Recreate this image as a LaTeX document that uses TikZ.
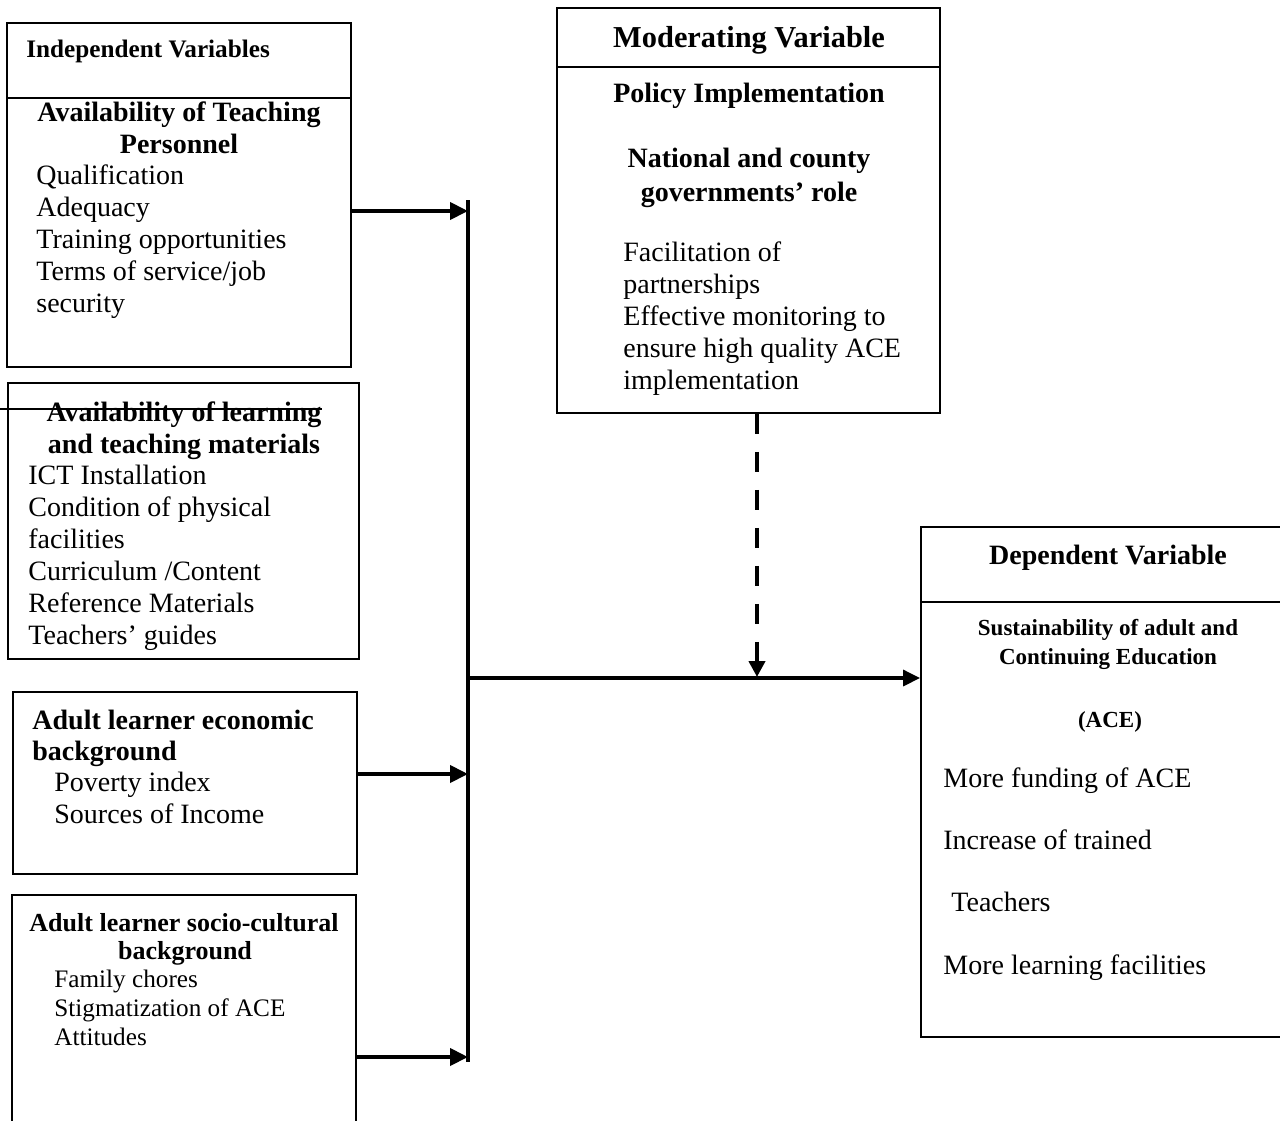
\documentclass[tikz,border=0pt]{standalone}
\usepackage{fontspec}
\setmainfont{Liberation Serif}
\usetikzlibrary{arrows.meta,fit}
\begin{document}
\begin{tikzpicture}[x=0.5pt,y=-0.5pt,
  box/.style={draw, line width=0.9pt, inner sep=0pt},
  rule/.style={line width=0.9pt},
  txt/.style={inner sep=0pt, anchor=base west, font=\fontsize{14}{16}\selectfont},
  hd/.style={inner sep=0pt, anchor=base west, font=\bfseries\fontsize{14}{16}\selectfont},
  hdc/.style={hd, anchor=base},
  arr/.style={line width=2pt, -{Triangle[length=9pt,width=8.5pt]}},
  ]
\path[use as bounding box] (0,0) rectangle (1280,1120);
\clip (0,0) rectangle (1280,1120);

% ---------- Box 1: Independent variables / teaching personnel
\node[box, fit={(7,23) (351,367)}] (iv) {};
\draw[rule] (iv.west |- 0,98) -- (iv.east |- 0,98);
\node[hd, font=\bfseries\fontsize{12.6}{14}\selectfont] (ivh) at (26,57) {Independent Variables};
\node[hdc] (ivt1) at (179,121) {Availability of Teaching};
\node[hdc] (ivt2) at (179,153) {Personnel};
\foreach \t/\y [count=\i] in {Qualification/184, Adequacy/216, Training opportunities/248, {Terms of service/job}/280, security/312}
  \node[txt] (ivi\i) at (36,\y) {\t};

% ---------- Box 2: learning and teaching materials
\node[box, fit={(8,383) (359,659)}] (lm) {};
\node[hdc] (lmt1) at (184,421) {Availability of learning};
\node[hdc] (lmt2) at (184,453) {and teaching materials};
\draw[line width=0.6pt] (0,409) -- (lmt1.east |- 0,409);
\foreach \t/\y [count=\i] in {ICT Installation/484, Condition of physical/516, facilities/548, {Curriculum /Content}/580, Reference Materials/612, Teachers’ guides/644}
  \node[txt] (lmi\i) at (28,\y) {\t};

% ---------- Box 3: economic background
\node[box, fit={(13,692) (357,874)}] (eb) {};
\node[hd] (ebt1) at (32,729) {Adult learner economic};
\node[hd] (ebt2) at (32,760) {background};
\node[txt] (ebi1) at (54,791) {Poverty index};
\node[txt] (ebi2) at (54,823) {Sources of Income};

% ---------- Box 4: socio-cultural background
\node[box, fit={(12,895) (356,1150)}] (sc) {};
\node[hdc, font=\bfseries\fontsize{13}{15}\selectfont] (sct1) at (184,931) {Adult learner socio-cultural};
\node[hdc, font=\bfseries\fontsize{13}{15}\selectfont] (sct2) at (185,959) {background};
\foreach \t/\y [count=\i] in {Family chores/987, Stigmatization of ACE/1016, Attitudes/1045}
  \node[txt, font=\fontsize{12.6}{14}\selectfont] (sci\i) at (54,\y) {\t};

% ---------- Moderating variable
\node[box, fit={(557,8) (940,413)}] (mv) {};
\draw[rule] (mv.west |- 0,67) -- (mv.east |- 0,67);
\node[hdc, font=\bfseries\fontsize{15.2}{17}\selectfont] (mvh) at (749,47) {Moderating Variable};
\node[hdc] (mvt1) at (749,102) {Policy Implementation};
\node[hdc] (mvt2) at (749,167) {National and county};
\node[hdc] (mvt3) at (749,201) {governments’ role};
\foreach \t/\y [count=\i] in {Facilitation of/261, partnerships/293, Effective monitoring to/325, ensure high quality ACE/357, implementation/389}
  \node[txt] (mvi\i) at (623,\y) {\t};

% ---------- Dependent variable
\node[box, fit={(921,527) (1300,1037)}] (dv) {};
\draw[rule] (dv.west |- 0,602) -- (dv.east |- 0,602);
\node[hdc] (dvh) at (1108,564) {Dependent Variable};
\node[hdc, font=\bfseries\fontsize{11.5}{13}\selectfont] (dvt1) at (1108,635) {Sustainability of adult and};
\node[hdc, font=\bfseries\fontsize{11.5}{13}\selectfont] (dvt2) at (1108,664) {Continuing Education};
\node[hdc, font=\bfseries\fontsize{11.5}{13}\selectfont] (dvt3) at (1110,727) {(ACE)};
\node[txt] (dvi1) at (943,787) {More funding of ACE};
\node[txt] (dvi2) at (943,849) {Increase of trained};
\node[txt] (dvi3) at (951,911) {Teachers};
\node[txt] (dvi4) at (943,974) {More learning facilities};

% ---------- connectors
\coordinate (busT) at (468,200);
\coordinate (busB) at (468,1062);
\coordinate (j1) at (468,211);
\coordinate (j3) at (468,774);
\coordinate (j4) at (468,1057);
\coordinate (jm) at (468,678);
\coordinate (dx) at (757,677);
\draw[line width=2.2pt] (busT) -- (busB);
\draw[arr] (iv.east |- j1) -- (j1);
\draw[arr] (eb.east |- j3) -- (j3);
\draw[arr] (sc.east |- j4) -- (j4);
\draw[line width=1.6pt, -{Triangle[length=8.5pt,width=8pt]}] (jm) -- (dv.west |- jm);
\draw[line width=2.2pt, dash pattern=on 10pt off 9pt, -{Triangle[length=8pt,width=8pt]}] (mv.south -| dx) -- (dx);
\end{tikzpicture}
\end{document}
